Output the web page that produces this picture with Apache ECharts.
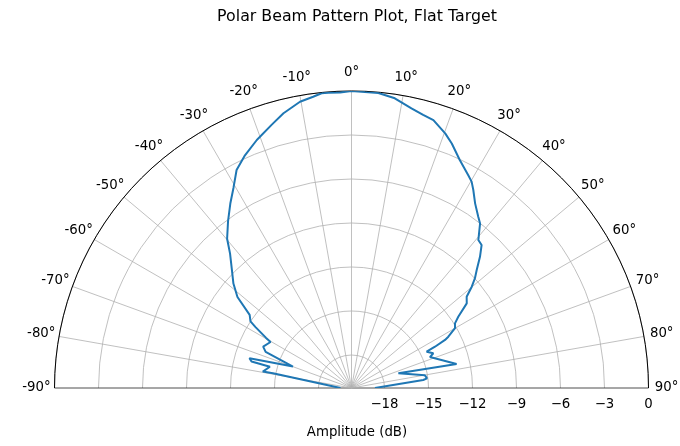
<!DOCTYPE html>
<html>
<head>
<meta charset="utf-8">
<script src="https://cdn.jsdelivr.net/npm/echarts@6/dist/echarts.min.js"></script>
<style>
  html, body { margin: 0; padding: 0; background: #ffffff; }
  #chart { width: 680px; height: 446px; }
</style>
</head>
<body>
<div id="chart"></div>
<script>
// Beam pattern samples: steering angle (degrees) and normalised amplitude (dB)
const beamAngles = [
  -90, -79.4, -79.5, -75.4, -75.2, -73.7, -69.9, -67.2, -64.9, -60.4,
  -59.6, -57.6, -56.6, -54.3, -51.4, -48.5, -45.4, -42.1, -39.8, -36.5,
  -33.3, -30.5, -27.8, -24.6, -20.9, -16.9, -13.9, -10.2, -7.5, -5.8,
  -4.5, -2.2, 0, 2.6, 5.2, 8.5, 12.1, 14.7, 17.0, 20.2,
  22.3, 25.4, 28.7, 30.2, 31.6, 33.8, 36.5, 38.0, 40.6, 42.3,
  44.4, 46.7, 48.4, 49.9, 51.6, 53.7, 56.3, 58.0, 58.3, 60.0,
  62.1, 62.8, 63.7, 64.2, 67.0, 68.5, 77.1, 72.6, 80.2, 82.7,
  83.6, 90
];
const beamAmplitudes = [
  -19.5, -14.8, -14.1, -14.5, -13.2, -13.0, -16.0, -13.9, -13.6, -13.9,
  -13.5, -12.5, -12.0, -11.7, -10.3, -9.5, -8.8, -7.9, -7.0, -6.1,
  -5.2, -4.4, -3.45, -2.8, -2.15, -1.5, -0.95, -0.42, -0.22, -0.05,
  -0.05, -0.08, 0, -0.05, -0.05, -0.28, -0.75, -1.0, -1.15, -1.75,
  -2.23, -3.04, -3.69, -3.97, -4.4, -5.1, -5.72, -6.01, -6.96, -7.07,
  -7.73, -8.52, -9.0, -9.53, -10.23, -10.5, -11.5, -11.93, -12.09, -12.1,
  -12.78, -13.08, -13.9, -14.56, -14.19, -14.5, -12.9, -16.9, -15.17, -15.06,
  -15.33, -18.65
];

// Axis settings
const angleRange = [-90, 90];
const angleStep = 10;
const amplitudeRange = [-20.25, 0];
const amplitudeTicks = [-18, -15, -12, -9, -6, -3, 0];

const chartTitle = 'Polar Beam Pattern Plot, Flat Target';
const amplitudeLabel = 'Amplitude (dB)';

const FONT = 'DejaVu Sans';
const LABEL_SIZE = 13.3;
const cx = 351.5, cy = 388, R = 297;

// Angular grid: the two edge spokes act as the plot's borders
const nSpokes = (angleRange[1] - angleRange[0]) / angleStep;
const spokeColors = [];
for (let i = 0; i < nSpokes; i++) spokeColors.push(i === 0 ? '#222222' : '#b0b0b0');

const chart = echarts.init(document.getElementById('chart'), null, { renderer: 'canvas' });

chart.setOption({
  animation: false,
  backgroundColor: '#ffffff',
  title: [
    {
      text: chartTitle,
      left: 352, top: 4, textAlign: 'center',
      textStyle: { fontFamily: FONT, fontSize: 15.8, fontWeight: 'normal', color: '#000' }
    },
    {
      text: amplitudeLabel,
      left: 352, top: 421, textAlign: 'center',
      textStyle: { fontFamily: FONT, fontSize: LABEL_SIZE, fontWeight: 'normal', color: '#000' }
    }
  ],
  polar: { center: [cx, cy], radius: R },
  angleAxis: {
    type: 'value',
    min: angleRange[0], max: angleRange[1], interval: angleStep,
    startAngle: 180, endAngle: 0, clockwise: true,
    axisLine: { show: true, lineStyle: { color: '#000', width: 1 } },
    axisTick: { show: false },
    axisLabel: {
      show: true, margin: 18,
      fontFamily: FONT, fontSize: LABEL_SIZE, color: '#000',
      // a near-zero box keeps each label centred on its anchor point
      formatter: v => '{c|' + v + '°}',
      rich: {
        c: {
          width: 0.01, height: 0.01, lineHeight: 0.01,
          align: 'center', verticalAlign: 'middle',
          fontFamily: FONT, fontSize: LABEL_SIZE, color: '#000'
        }
      }
    },
    splitLine: { show: true, lineStyle: { color: spokeColors, width: 0.8 } }
  },
  radiusAxis: {
    type: 'value',
    min: amplitudeRange[0], max: amplitudeRange[1],
    axisLine: { show: false },
    axisTick: { show: false, customValues: amplitudeTicks },
    axisLabel: { show: false, customValues: amplitudeTicks },
    splitLine: { show: true, lineStyle: { color: '#b0b0b0', width: 0.8 } }
  },
  // Cartesian strip along the right-hand radius carrying the amplitude tick labels
  grid: { left: cx, top: cy - 1, width: R, height: 1, containLabel: false },
  xAxis: {
    type: 'value',
    min: amplitudeRange[0], max: amplitudeRange[1],
    axisLine: { show: false },
    axisTick: { show: false, customValues: amplitudeTicks },
    splitLine: { show: false },
    axisLabel: {
      customValues: amplitudeTicks, margin: 10,
      fontFamily: FONT, fontSize: LABEL_SIZE, color: '#000',
      formatter: v => String(v).replace('-', '\u2212')
    }
  },
  yAxis: { type: 'value', show: false },
  series: [{
    type: 'line',
    coordinateSystem: 'polar',
    data: beamAngles.map((a, i) => [beamAmplitudes[i], a]),
    showSymbol: false,
    smooth: false,
    lineStyle: { color: '#1f77b4', width: 2 },
    z: 5
  }]
});
</script>
</body>
</html>
